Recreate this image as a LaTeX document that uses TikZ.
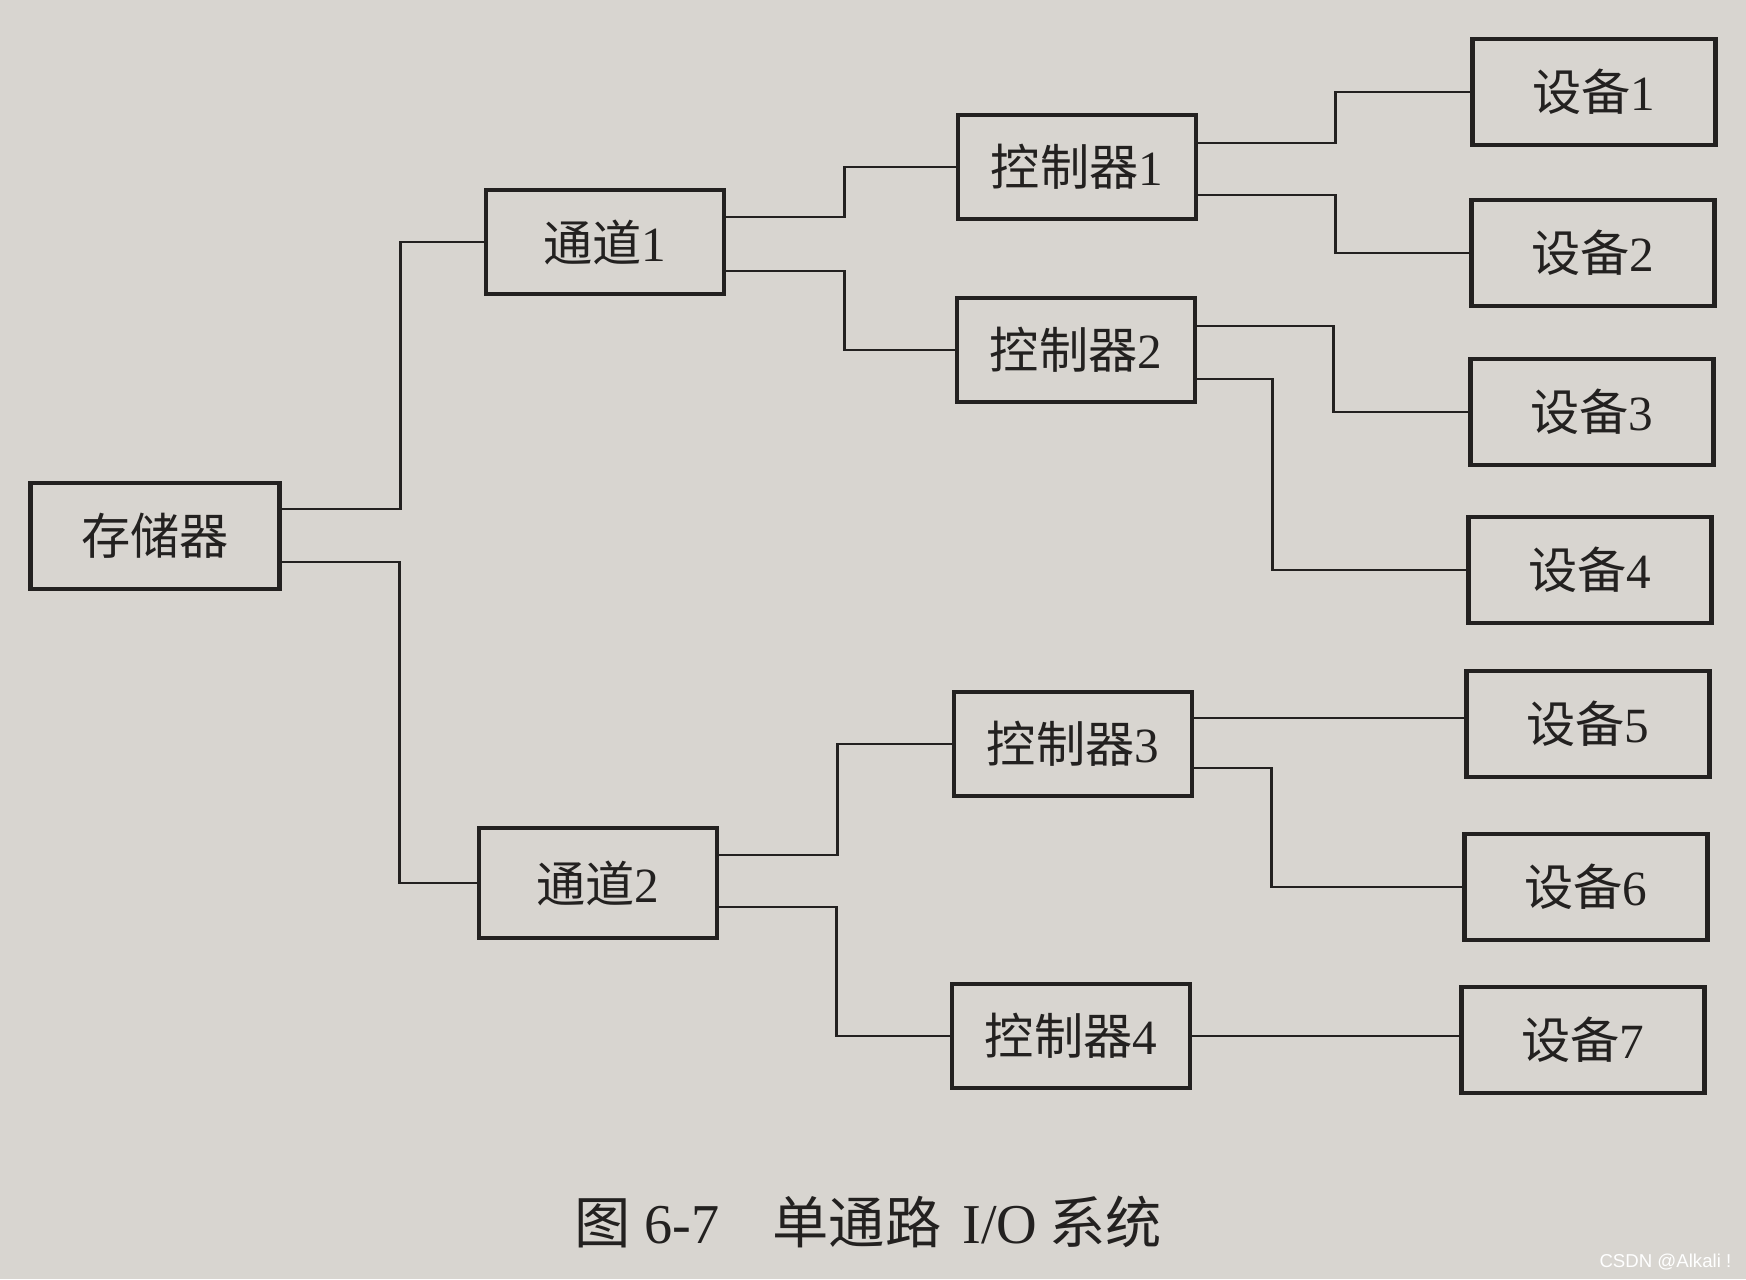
\documentclass[tikz,border=0pt]{standalone}
\usepackage{fontspec}
\setmainfont{Liberation Serif}
\newfontfamily\cjk{Noto Sans CJK SC}
\newfontfamily\wmfont{Liberation Sans}
\usepackage{tikz}
\definecolor{paper}{RGB}{216,213,208}
\definecolor{ink}{RGB}{35,33,32}

\begin{document}
\begin{tikzpicture}[x=0.01cm,y=-0.01cm,
   box/.style={draw=ink,line width=1.2pt,minimum width=2.38cm,minimum height=1.04cm,text=ink,font=\fontsize{14}{16}\selectfont},
   dev/.style={box,minimum width=2.43cm,minimum height=1.06cm},
   wire/.style={draw=ink,line width=0.8pt}]
\fill[paper] (0,0) rectangle (1746,1279);
\useasboundingbox (0,0) rectangle (1746,1279);
\node[box,minimum width=2.49cm,minimum height=1.06cm] (mem) at (155,536) {{\cjk 存储器}};
\node[box] (ch1) at (605,242) {{\cjk 通道}1};
\node[box,minimum height=1.1cm] (ch2) at (598,883) {{\cjk 通道}2};
\foreach \n/\x/\y in %
{1/1077/167,2/1076/350,3/1073/744,4/1071/1036} {
   \node[box] (ctl\n) at (\x,\y) {{\cjk 控制器}\n};
}
\foreach \n/\x/\y in %
{1/1594/92,2/1593/253,3/1592/412,4/1590/570,5/1588/724,6/1586/887,7/1583/1040} {
   \node[dev] (dev\n) at (\x,\y) {{\cjk 设备}\n};
}
\draw[wire] ([yshift=2.7mm]mem.east) -- ++(119,0) |- (ch1.west);
\draw[wire] ([yshift=-2.6mm]mem.east) -- ++(118,0) |- (ch2.west);
\draw[wire] ([yshift=2.5mm]ch1.east) -- ++(118,0) |- (ctl1.west);
\draw[wire] ([yshift=-2.9mm]ch1.east) -- ++(118,0) |- (ctl2.west);
\draw[wire] ([yshift=2.8mm]ch2.east) -- ++(118,0) |- (ctl3.west);
\draw[wire] ([yshift=-2.4mm]ch2.east) -- ++(117,0) |- (ctl4.west);
\draw[wire] ([yshift=2.4mm]ctl1.east) -- ++(137,0) |- (dev1.west);
\draw[wire] ([yshift=-2.8mm]ctl1.east) -- ++(137,0) |- (dev2.west);
\draw[wire] ([yshift=2.4mm]ctl2.east) -- ++(136,0) |- (dev3.west);
\draw[wire] ([yshift=-2.9mm]ctl2.east) -- ++(75,0) |- (dev4.west);
\draw[wire] ([yshift=2.6mm]ctl3.east) coordinate (c5) -- (c5 -| dev5.west);
\draw[wire] ([yshift=-2.4mm]ctl3.east) -- ++(77,0) |- (dev6.west);
\draw[wire] (ctl4.east) -- (ctl4.east -| dev7.west);
% caption
\node[anchor=west,text=ink,font=\fontsize{16}{18}\selectfont] (cap) at (562,1222)
   {{\cjk 图}\hspace{4pt}6-7\hspace{15pt}{\cjk 单通路}\hspace{6pt}I/O\hspace{3.5pt}{\cjk 系统}};
\node[anchor=east,inner sep=0pt,text=white,font=\wmfont\fontsize{5.3}{6}\selectfont] (wm) at (1732,1262) {CSDN @Alkali !};
\end{tikzpicture}
\end{document}
